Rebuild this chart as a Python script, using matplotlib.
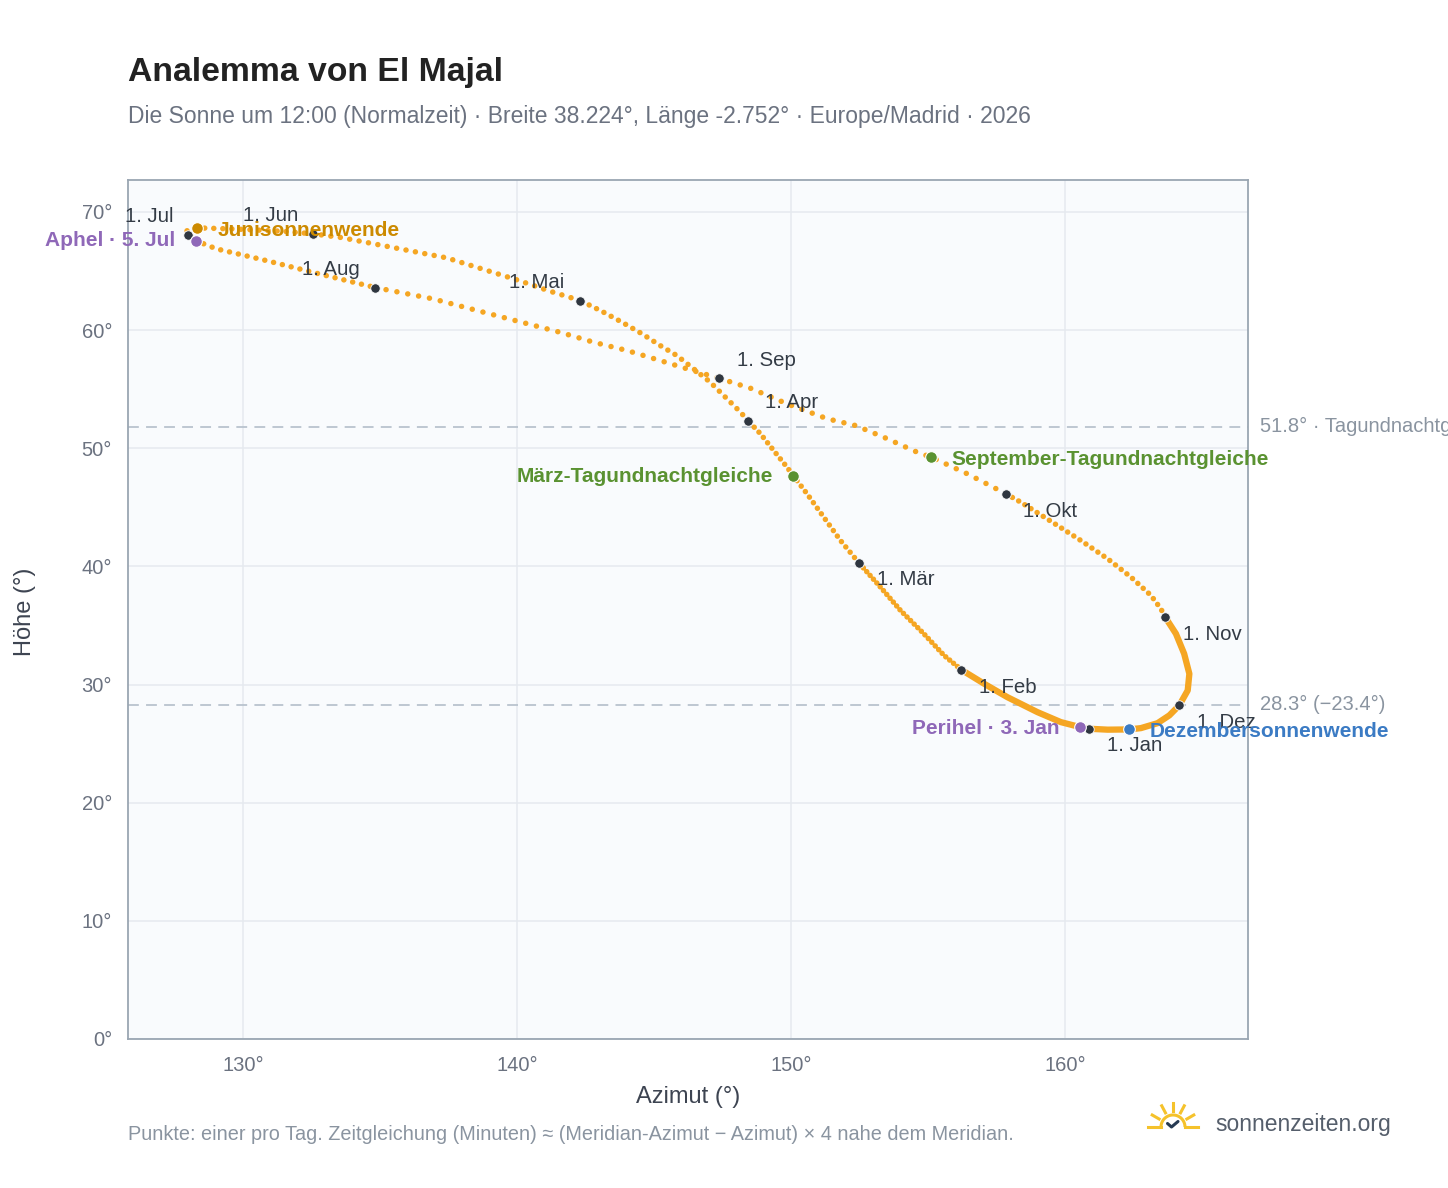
import matplotlib
matplotlib.use("Agg")
import matplotlib.pyplot as plt
import numpy as np

plt.rcParams['font.family'] = ['Liberation Sans', 'DejaVu Sans']

# ---- data ----
# traced noon-sun path, starting 1 Jan and closing back on 1 Jan
path_az = [160.87, 160.54, 159.84, 158.99, 157.89, 157.04, 156.21, 155.58, 154.84, 153.99,
           153.26, 152.47, 151.80, 151.19, 150.58, 150.08, 149.85, 149.36, 148.88, 148.43,
           148.15, 147.66, 147.05, 146.44, 145.83, 145.22, 144.56, 143.83, 143.09, 142.30,
           141.21, 139.99, 137.43, 135.73, 133.53, 132.56, 131.45, 129.62, 128.32, 127.92,
           127.99, 128.27, 129.03, 130.85, 132.68, 134.82, 136.93, 139.38, 141.57, 142.79,
           144.01, 145.22, 146.20, 147.37, 148.51, 149.85, 151.32, 152.35, 153.38, 154.60,
           155.11, 156.43, 157.84, 158.38, 159.59, 160.57, 161.55, 162.40, 163.13, 163.49,
           163.65, 164.04, 164.34, 164.53, 164.47, 164.16, 163.80, 163.37, 162.76, 162.33,
           161.55, 160.87]
path_alt = [26.26, 26.40, 26.82, 27.66, 28.93, 30.07, 31.25, 32.46, 34.30, 36.27,
            38.24, 40.30, 42.19, 44.16, 46.14, 47.66, 48.39, 49.81, 51.22, 52.32,
            53.05, 54.18, 55.58, 56.72, 57.84, 58.69, 59.68, 60.66, 61.59, 62.50,
            63.28, 64.25, 66.11, 66.87, 67.85, 68.14, 68.36, 68.56, 68.65, 68.38,
            68.05, 67.57, 66.87, 65.88, 64.81, 63.60, 62.64, 61.14, 59.81, 58.97,
            58.27, 57.42, 56.72, 55.92, 55.08, 53.76, 52.49, 51.92, 50.93, 49.66,
            49.24, 47.83, 46.14, 45.43, 43.65, 42.19, 40.64, 39.09, 37.54, 36.41,
            35.70, 34.30, 32.61, 30.91, 29.50, 28.23, 27.39, 26.73, 26.31, 26.20,
            26.18, 26.26]
# index of each month start in the path (Jan..Dec, then closing Jan)
month_idx = [0, 6, 11, 19, 29, 35, 40, 45, 53, 62, 70, 75, 81]

month_labels = ["1. Jan", "1. Feb", "1. Mär", "1. Apr", "1. Mai", "1. Jun",
                "1. Jul", "1. Aug", "1. Sep", "1. Okt", "1. Nov", "1. Dez"]
month_az = [160.87, 156.21, 152.47, 148.43, 142.30, 132.56,
            127.99, 134.82, 147.37, 157.84, 163.65, 164.16]
month_alt = [26.26, 31.25, 40.30, 52.32, 62.50, 68.14,
             68.05, 63.60, 55.92, 46.14, 35.70, 28.23]

event_labels = ["Junisonnenwende", "Aphel · 5. Jul", "März-Tagundnachtgleiche",
                "September-Tagundnachtgleiche", "Perihel · 3. Jan", "Dezembersonnenwende"]
event_az = [128.32, 128.27, 150.08, 155.11, 160.54, 162.33]
event_alt = [68.65, 67.57, 47.66, 49.24, 26.40, 26.20]

ref_alt = [51.8, 28.3]
ref_labels = ["51.8° · Tagundnachtgleiche", "28.3° (−23.4°)"]

x_ticks = [130, 140, 150, 160]
y_ticks = [0, 10, 20, 30, 40, 50, 60, 70]

# ---- styling ----
W, H = 1448, 1188
fig = plt.figure(figsize=(W / 100, H / 100), dpi=100)
fig.patch.set_facecolor("white")
ax = fig.add_axes([128 / W, 1 - 1039 / H, (1248 - 128) / W, (1039 - 180) / H])
ax.set_facecolor("#f9fbfd")
ax.set_xlim(125.8, 166.67)
ax.set_ylim(0, 72.7)
for s in ax.spines.values():
    s.set_color("#9aa6b2")
    s.set_linewidth(1.3)
ax.set_xticks(x_ticks)
ax.set_xticklabels([f"{t}°" for t in x_ticks])
ax.set_yticks(y_ticks)
ax.set_yticklabels([f"{t}°" for t in y_ticks])
ax.tick_params(axis="both", length=0, labelsize=14.5, colors="#6b7280")
ax.tick_params(axis="y", pad=11.5)
ax.tick_params(axis="x", pad=12)
ax.grid(True, color="#e6eaef", linewidth=1.1)
ax.set_axisbelow(True)
ax.set_xlabel("Azimut (°)", fontsize=17, color="#3d4451")
ax.set_ylabel("Höhe (°)", fontsize=17, color="#3d4451")
ax.xaxis.set_label_coords((688 - 128) / 1120, (1039 - 1097) / 859)
ax.yaxis.set_label_coords((25 - 128) / 1120, (1039 - 612) / 859)
ax.xaxis.label.set_va("center")
ax.yaxis.label.set_va("center")

# reference lines
for a, lab in zip(ref_alt, ref_labels):
    ax.axhline(a, color="#b9c3ce", linewidth=1.3, dashes=(6, 4), zorder=1)
    ax.annotate(lab, xy=(1, a), xycoords=("axes fraction", "data"),
                xytext=(12, 0), textcoords="offset pixels", ha="left", va="center",
                fontsize=14.5, color="#8a94a0", annotation_clip=False)

# analemma path: dot spacing (px) per month segment; 0 = solid (dense dots)
orange = "#f5a623"
dot_px = 5.5
lw = dot_px * 0.72
spacing = [0, 5.0, 6.8, 8.2, 9.5, 9.0, 9.0, 11.0, 11.0, 7.2, 0, 0]
for m in range(12):
    i0, i1 = month_idx[m], month_idx[m + 1]
    xs = path_az[i0:i1 + 1]
    ys = path_alt[i0:i1 + 1]
    if spacing[m] == 0:
        ax.plot(xs, ys, color=orange, linewidth=6.3 * 0.72, solid_capstyle="round",
                solid_joinstyle="round", zorder=3)
    else:
        ax.plot(xs, ys, color=orange, linewidth=lw, dash_capstyle="round",
                linestyle=(0, (0.01, spacing[m] / dot_px)), zorder=3)

# month markers
ax.plot(month_az, month_alt, "o", color="#2f3640", markersize=6.8, mec="white",
        mew=0.6, zorder=5)
month_off = [(18, -17, "left"), (18, -18, "left"), (18, -17, "left"), (17, 18, "left"),
             (-16, 18, "right"), (-15, 18, "right"), (-15, 18, "right"), (-15, 18, "right"),
             (18, 18, "left"), (17, -18, "left"), (18, -17, "left"), (18, -17, "left")]
for lab, x, y, (dx, dy, ha) in zip(month_labels, month_az, month_alt, month_off):
    ax.annotate(lab, (x, y), xytext=(dx, dy), textcoords="offset pixels",
                ha=ha, va="center", fontsize=14.7, color="#333b45", zorder=6)

# events
ev_colors = ["#cc8a00", "#8f68b8", "#5a9231", "#5a9231", "#8f68b8", "#3b7bc4"]
ev_off = [(21, -3, "left"), (-20, 0, "right"), (-20, -1, "right"),
          (20, -2, "left"), (-21, -1, "right"), (21, -2, "left")]
for lab, x, y, c, (dx, dy, ha) in zip(event_labels, event_az, event_alt, ev_colors, ev_off):
    ax.plot([x], [y], "o", color=c, markersize=8.4, mec="white", mew=0.8, zorder=7)
    ax.annotate(lab, (x, y), xytext=(dx, dy), textcoords="offset pixels",
                ha=ha, va="center", fontsize=15, fontweight="bold", color=c, zorder=8)

# titles
fig.text(128 / W, 1 - 73 / H, "Analemma von El Majal", fontsize=24.3, fontweight="bold",
         color="#222222", ha="left", va="center")
fig.text(128 / W, 1 - 117 / H,
         "Die Sonne um 12:00 (Normalzeit) · Breite 38.224°, Länge -2.752° · Europe/Madrid · 2026",
         fontsize=16.5, color="#6b7280", ha="left", va="center")
fig.text(128 / W, 1 - 1134 / H,
         "Punkte: einer pro Tag. Zeitgleichung (Minuten) ≈ (Meridian-Azimut − Azimut) × 4 nahe dem Meridian.",
         fontsize=14.3, color="#8a94a0", ha="left", va="center")

# logo
lax = fig.add_axes([1140 / W, 1 - 1140 / H, 66 / W, 42 / H])
lax.set_xlim(0, 66)
lax.set_ylim(42, 0)
lax.axis("off")
cx, cy = 33, 29
yel = "#f5c22b"
th = np.linspace(0, np.pi, 50)
lax.plot(cx + 12 * np.cos(th), cy - 12 * np.sin(th), color=yel, lw=2.2, solid_capstyle="butt")
for ang in [30, 62, 90, 118, 150]:
    a = np.deg2rad(ang)
    lax.plot([cx + 16 * np.cos(a), cx + 24 * np.cos(a)],
             [cy - 16 * np.sin(a), cy - 24 * np.sin(a)], color=yel, lw=2.2)
lax.plot([8, 21], [cy, cy], color=yel, lw=2.2)
lax.plot([45, 58], [cy, cy], color=yel, lw=2.2)
lax.plot([27.5, 31.5, 38], [25.5, 29, 23.5], color="#263a52", lw=2.2,
         solid_capstyle="round", solid_joinstyle="round")
fig.text(1215 / W, 1 - 1125 / H, "sonnenzeiten.org", fontsize=16.5, color="#555e6b",
         ha="left", va="center")

fig.savefig("out.png", dpi=100, facecolor="white")
